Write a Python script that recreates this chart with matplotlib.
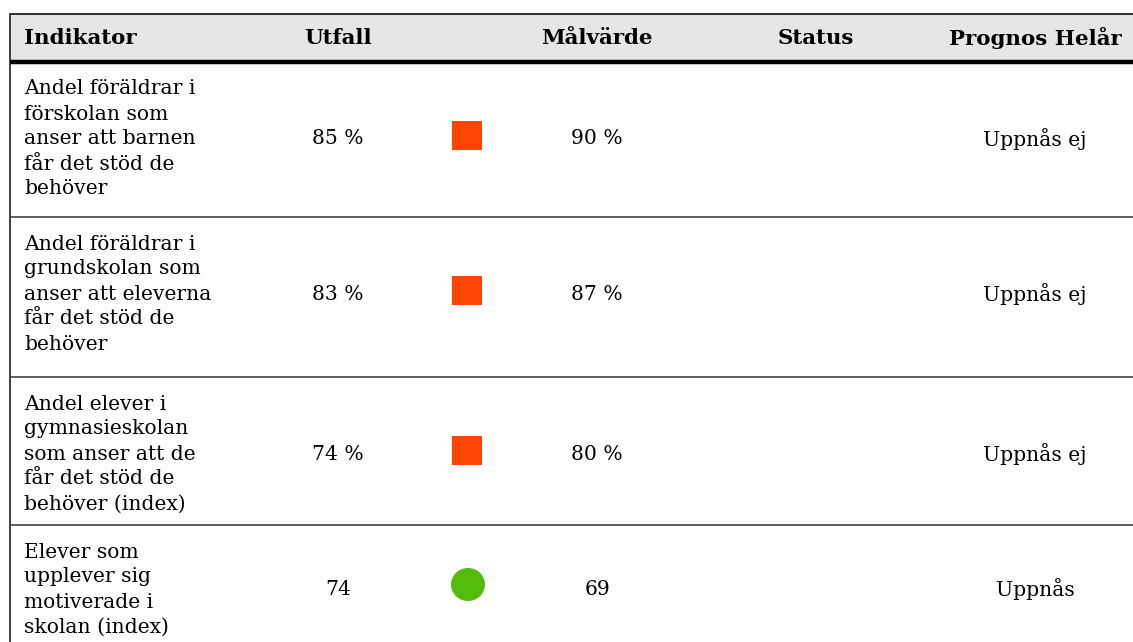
import matplotlib
matplotlib.use("Agg")
import matplotlib.pyplot as plt
from matplotlib.patches import Rectangle, Ellipse

# ---- data ----
headers = ["Indikator", "Utfall", "Målvärde", "Status", "Prognos Helår"]
indicators = [
    "Andel föräldrar i\nförskolan som\nanser att barnen\nfår det stöd de\nbehöver",
    "Andel föräldrar i\ngrundskolan som\nanser att eleverna\nfår det stöd de\nbehöver",
    "Andel elever i\ngymnasieskolan\nsom anser att de\nfår det stöd de\nbehöver (index)",
    "Elever som\nupplever sig\nmotiverade i\nskolan (index)",
]
utfall = ["85 %", "83 %", "74 %", "74"]
malvarde = ["90 %", "87 %", "80 %", "69"]
status = ["red", "red", "red", "green"]
prognos = ["Uppnås ej", "Uppnås ej", "Uppnås ej", "Uppnås"]

# ---- layout (pixels) ----
W, H = 1133, 642
fig = plt.figure(figsize=(W / 100, H / 100), dpi=100)
ax = fig.add_axes([0, 0, 1, 1])
ax.set_xlim(0, W)
ax.set_ylim(H, 0)
ax.axis("off")

FONT = "DejaVu Serif"
fs = 14.6
hfs = 15.4

top = 14
head_bot = 60
row_tops = [62, 217, 377, 525]
row_bots = [217, 377, 525, 680]
left = 10
right = W + 5

x_ind = 24
x_utf = 338
x_stat_icon = 467
x_mal = 597
x_status = 816
x_prog = 1035

status_colors = {"red": "#FF4500", "green": "#55BB0A"}

# header background
ax.add_patch(Rectangle((left, top), right - left, head_bot - top,
                       facecolor="#E6E6E6", edgecolor="none", zorder=0))
# borders
ax.plot([left, right], [top, top], color="#222222", lw=1.3, solid_capstyle="butt")
ax.plot([left, left], [top, H + 5], color="#333333", lw=1.3)
ax.plot([left, right], [head_bot + 1.5, head_bot + 1.5], color="black", lw=3.2,
        solid_capstyle="butt")
for yb in row_bots[:-1]:
    ax.plot([left, right], [yb, yb], color="#444444", lw=1.2)

hy = (top + head_bot) / 2 + 1
ax.text(x_ind, hy, headers[0], ha="left", va="center", fontsize=hfs,
        fontweight="bold", family=FONT)
for x, h in zip([x_utf, x_mal, x_status, x_prog], headers[1:]):
    ax.text(x, hy, h, ha="center", va="center", fontsize=hfs,
            fontweight="bold", family=FONT)

line_h = 25
for i, (ind, u, m, s, p) in enumerate(zip(indicators, utfall, malvarde, status, prognos)):
    ytop = row_tops[i]
    lines = ind.split("\n")
    for k, ln in enumerate(lines):
        ax.text(x_ind, ytop + 27 + k * line_h, ln, ha="left", va="center",
                fontsize=fs, family=FONT)
    yc = ytop + 27 + (len(lines) - 1) * line_h / 2
    ax.text(x_utf, yc, u, ha="center", va="center", fontsize=fs, family=FONT)
    ax.text(x_mal, yc, m, ha="center", va="center", fontsize=fs, family=FONT)
    ax.text(x_prog, yc, p, ha="center", va="center", fontsize=fs, family=FONT)
    col = status_colors[s]
    if s == "green":
        ax.add_patch(Ellipse((x_stat_icon + 1, yc - 5), 34, 33, facecolor=col,
                             edgecolor="none"))
    else:
        ax.add_patch(Rectangle((x_stat_icon - 15, yc - 18), 30, 29,
                               facecolor=col, edgecolor="none"))

fig.savefig("out.png", dpi=100)
